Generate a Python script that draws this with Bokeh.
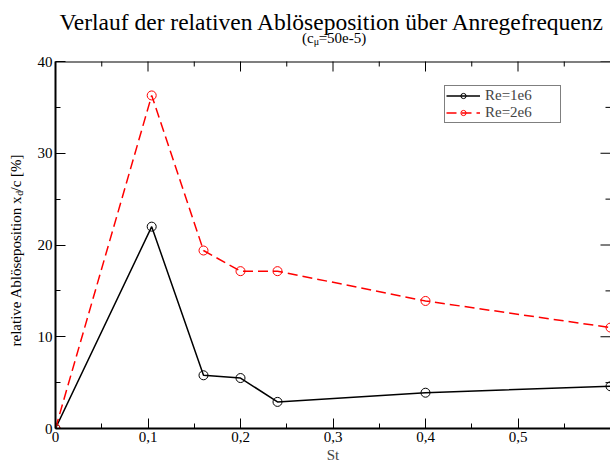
import math
from bokeh.plotting import figure
from bokeh.models import (LinearAxis, FixedTicker, CustomJSTickFormatter, Label,
                          Legend, LegendItem, Range1d)
from bokeh.embed import file_html
from bokeh.resources import INLINE

# ---- data ----
st_re1e6 = [0.0, 0.104, 0.16, 0.20, 0.24, 0.40, 0.60]
xd_re1e6 = [0.0, 22.0, 5.8, 5.5, 2.9, 3.9, 4.6]
st_re2e6 = [0.0, 0.104, 0.16, 0.20, 0.24, 0.40, 0.60]
xd_re2e6 = [0.0, 36.3, 19.4, 17.15, 17.15, 13.9, 11.0]

x_ticks = [0.0, 0.1, 0.2, 0.3, 0.4, 0.5]
x_minor = [0.05, 0.15, 0.25, 0.35, 0.45, 0.55]
y_ticks = [0, 10, 20, 30, 40]
y_minor = [5, 15, 25, 35]

SERIF = "Liberation Serif"

p = figure(width=610, height=465, output_backend="svg", toolbar_location=None,
           x_range=Range1d(0, 0.6), y_range=Range1d(0, 40),
           min_border_left=55, min_border_right=0, min_border_top=61,
           min_border_bottom=37, x_axis_location=None, y_axis_location=None)
p.grid.visible = False
p.outline_line_color = None
p.background_fill_color = "white"
p.border_fill_color = "white"

fmt = CustomJSTickFormatter(code="""
if (Math.abs(tick) < 1e-9) return "0";
return tick.toFixed(1).replace('.', ',');
""")

def style(ax):
    ax.major_tick_in = 10
    ax.major_tick_out = 0
    ax.minor_tick_in = 5
    ax.minor_tick_out = 0
    ax.major_tick_line_color = "black"
    ax.minor_tick_line_color = "black"
    ax.major_tick_line_width = 1
    ax.axis_line_width = 2
    ax.axis_line_color = "black"
    ax.major_label_text_font = SERIF
    ax.major_label_text_font_size = "15px"
    ax.major_label_text_color = "black"
    ax.major_label_standoff = 3
    ax.axis_label_text_font = SERIF
    ax.axis_label_text_font_size = "15px"
    ax.axis_label_text_font_style = "normal"
    ax.axis_label_standoff = 2

xb = LinearAxis(ticker=FixedTicker(ticks=x_ticks, minor_ticks=x_minor),
                formatter=fmt, axis_label="St")
style(xb)
p.add_layout(xb, "below")

yl = LinearAxis(ticker=FixedTicker(ticks=y_ticks, minor_ticks=y_minor))
style(yl)
p.add_layout(yl, "left")

# top frame line and inward ticks on the top and right edges (half of each
# centred dash falls outside the frame and is clipped)
p.segment(x0=[0.0], y0=[40], x1=[0.6], y1=[40], line_color="black", line_width=2)
p.scatter(x=x_ticks, y=[40] * len(x_ticks), marker="dash", angle=math.pi / 2,
          size=20, line_color="black", line_width=1)
p.scatter(x=x_minor, y=[40] * len(x_minor), marker="dash", angle=math.pi / 2,
          size=10, line_color="black", line_width=1)
p.scatter(x=[0.6] * len(y_ticks), y=y_ticks, marker="dash",
          size=20, line_color="black", line_width=1)
p.scatter(x=[0.6] * len(y_minor), y=y_minor, marker="dash",
          size=10, line_color="black", line_width=1)

l1 = p.line(st_re1e6, xd_re1e6, line_color="black", line_width=1.5)
s1 = p.scatter(st_re1e6, xd_re1e6, marker="circle", size=9, line_color="black",
               fill_color=None, line_width=1)
l2 = p.line(st_re2e6, xd_re2e6, line_color="#ff0000", line_width=1.5, line_dash="10 5")
s2 = p.scatter(st_re2e6, xd_re2e6, marker="circle", size=9, line_color="#ff0000",
               fill_color=None, line_width=1)

legend = Legend(items=[LegendItem(label="Re=1e6", renderers=[l1, s1]),
                       LegendItem(label="Re=2e6", renderers=[l2, s2])],
                location=(389, 305), orientation="vertical",
                border_line_color="black", border_line_width=1,
                background_fill_color="white", background_fill_alpha=1,
                padding=1, spacing=0, margin=0, glyph_width=34, glyph_height=13,
                label_height=13, label_width=74, label_standoff=5,
                label_text_font=SERIF, label_text_font_size="15px")
p.add_layout(legend, "center")

def lab(side, x, y, text, size, align="left", angle=0.0):
    # placed in a side panel so that it is not clipped to the frame;
    # canvas units = absolute page pixels (y from top)
    p.add_layout(Label(x=x, y=y, x_units="canvas", y_units="canvas", text=text,
                       text_font=SERIF, text_font_size=size, text_align=align,
                       text_baseline="alphabetic", angle=angle, text_color="black"),
                 side)

# title
lab("above", 332, 21, "Verlauf der relativen Ablöseposition über Anregefrequenz", "23.5px", "center")
# subtitle (c_mu=50e-5): gap in the text is filled by the subscript
lab("above", 301.5, 37, "(c \u200a=50e-5)", "15px", "left")
lab("above", 313.2, 41, "μ", "10px", "left")

# y axis label with subscript, rotated
a = math.pi / 2
lab("left", 15, 346, "relative Ablöseposition x \u200a/c [%]", "15px", "left", a)
lab("left", 19, 195.2, "d", "10px", "left", a)

open("out.html", "w").write(file_html(p, INLINE))
